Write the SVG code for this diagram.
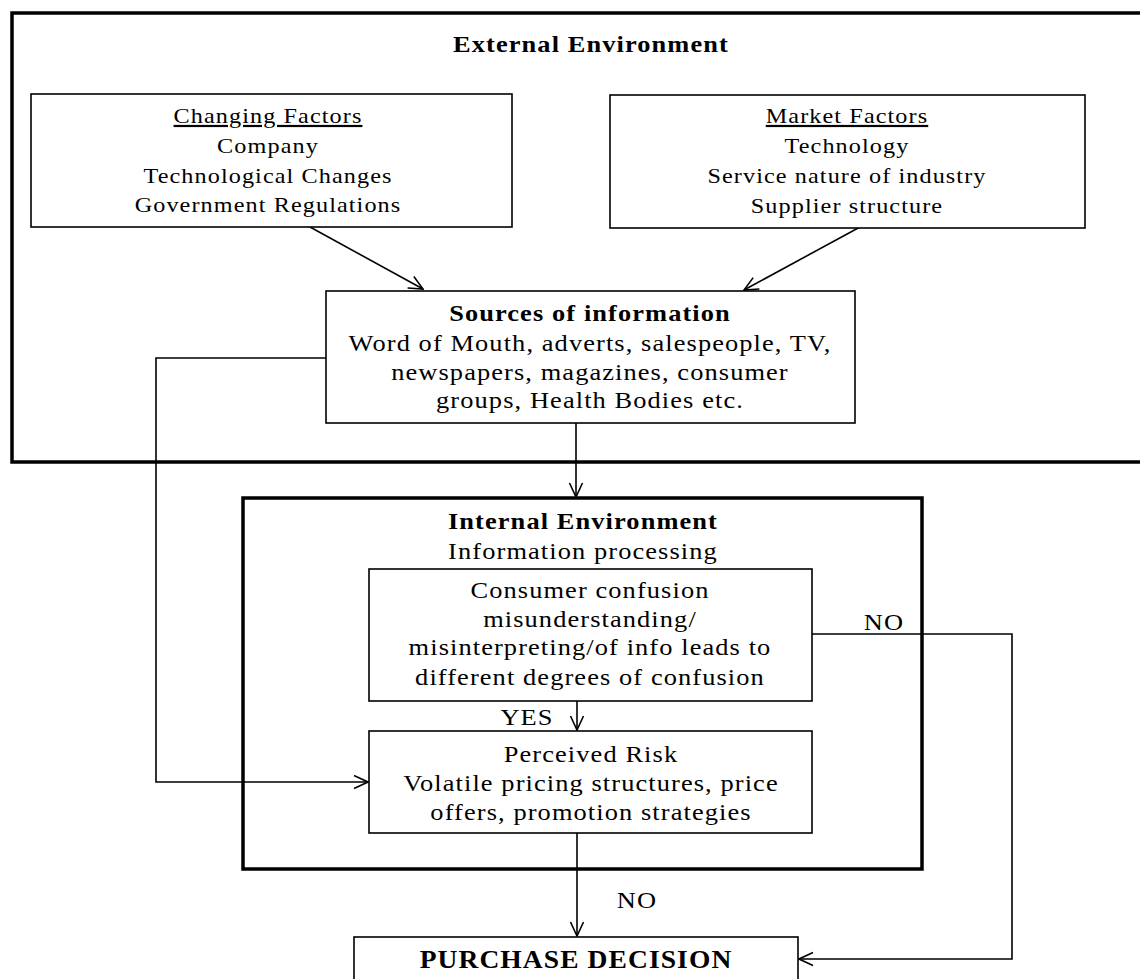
<svg xmlns="http://www.w3.org/2000/svg" width="1140" height="979" viewBox="0 0 1140 979">
  <style>
    text { font-family: "Liberation Serif", "Times New Roman", serif; font-size: 24px; fill: #000; text-anchor: middle;
           letter-spacing: 1px; transform-box: fill-box; transform-origin: center; transform: scaleX(1.1); }
    .b { font-weight: bold; }
    .u { text-decoration: underline; }
    .s22 { font-size: 22px; }
    .big { font-size: 25px; }
    .box { fill: #fff; stroke: #000; stroke-width: 1.6; }
    .frame { fill: none; stroke: #000; stroke-width: 3.5; }
    .wire { fill: none; stroke: #000; stroke-width: 1.6; }
  </style>
  <defs>
    <marker id="arrow" viewBox="0 0 16 16" refX="15" refY="7.5" markerWidth="16" markerHeight="16" markerUnits="userSpaceOnUse" orient="auto">
      <path d="M1,1 L15,7.5 L1,14" fill="none" stroke="#000" stroke-width="1.6"/>
    </marker>
  </defs>
  <rect width="1140" height="979" fill="#fff"/>

  <!-- environment frames -->
  <g id="external-environment">
    <rect class="frame" x="12" y="13" width="1200" height="449"/>
    <text class="b" x="591" y="52">External Environment</text>
  </g>
  <g id="internal-environment">
    <rect class="frame" x="243" y="498" width="679" height="371"/>
    <text class="b" x="583" y="529">Internal Environment</text>
    <text x="583" y="559">Information processing</text>
  </g>

  <!-- connectors -->
  <g id="connectors">
    <path class="wire" d="M310,227 L423,289" marker-end="url(#arrow)"/>
    <path class="wire" d="M860,227 L744,290" marker-end="url(#arrow)"/>
    <path class="wire" d="M576,423 L576,497" marker-end="url(#arrow)"/>
    <path class="wire" d="M326,358 L156,358 L156,782 L368,782" marker-end="url(#arrow)"/>
    <path class="wire" d="M577,701 L577,730" marker-end="url(#arrow)"/>
    <path class="wire" d="M577,833 L577,936" marker-end="url(#arrow)"/>
    <path class="wire" d="M812,634 L1012,634 L1012,959 L799,959" marker-end="url(#arrow)"/>
    <text x="527" y="725">YES</text>
    <text x="884" y="630">NO</text>
    <text x="637" y="908">NO</text>
  </g>

  <g id="changing-factors">
    <rect class="box" x="31" y="94" width="481" height="133"/>
    <text class="u s22" x="268" y="123">Changing Factors</text>
    <text class="s22" x="268" y="153">Company</text>
    <text class="s22" x="268" y="183">Technological Changes</text>
    <text class="s22" x="268" y="212">Government Regulations</text>
  </g>

  <g id="market-factors">
    <rect class="box" x="610" y="95" width="475" height="133"/>
    <text class="u s22" x="847" y="123">Market Factors</text>
    <text class="s22" x="847" y="153">Technology</text>
    <text class="s22" x="847" y="183">Service nature of industry</text>
    <text class="s22" x="847" y="213">Supplier structure</text>
  </g>

  <g id="sources-of-information">
    <rect class="box" x="326" y="291" width="529" height="132"/>
    <text class="b" x="590" y="321">Sources of information</text>
    <text x="590" y="351">Word of Mouth, adverts, salespeople, TV,</text>
    <text x="590" y="380">newspapers, magazines, consumer</text>
    <text x="590" y="408">groups, Health Bodies etc.</text>
  </g>

  <g id="consumer-confusion">
    <rect class="box" x="369" y="569" width="443" height="132"/>
    <text x="590" y="598">Consumer confusion</text>
    <text x="590" y="627">misunderstanding/</text>
    <text x="590" y="655">misinterpreting/of info leads to</text>
    <text x="590" y="685">different degrees of confusion</text>
  </g>

  <g id="perceived-risk">
    <rect class="box" x="369" y="731" width="443" height="102"/>
    <text x="591" y="762">Perceived Risk</text>
    <text x="591" y="791">Volatile pricing structures, price</text>
    <text x="591" y="820">offers, promotion strategies</text>
  </g>

  <g id="purchase-decision">
    <rect class="box" x="354" y="937" width="444" height="60"/>
    <text class="b big" x="576" y="968">PURCHASE DECISION</text>
  </g>
</svg>
